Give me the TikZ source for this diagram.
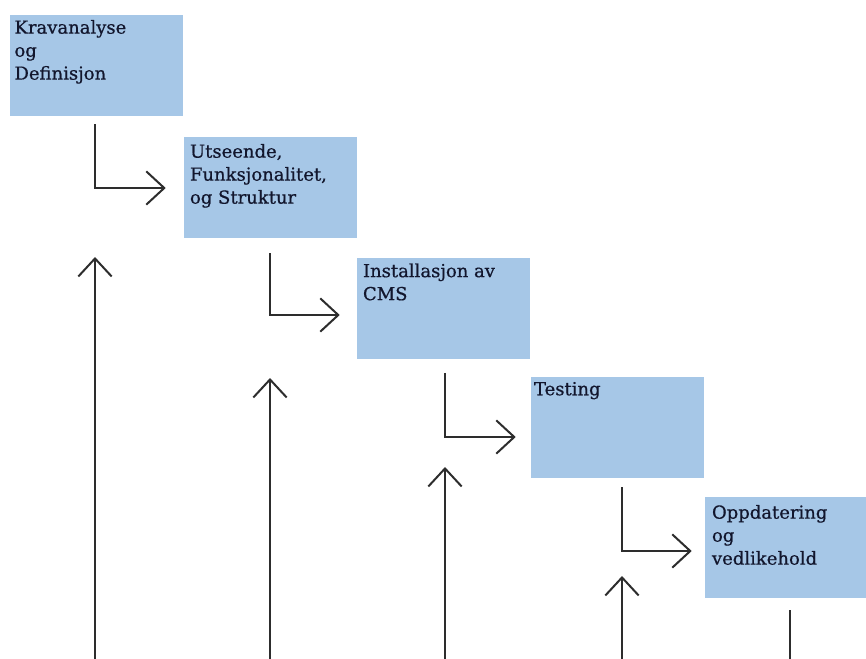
\documentclass[tikz,border=0pt]{standalone}
\usepackage{fontspec}
\setmainfont{DejaVu Serif}
\newfontfamily\stagefont{DejaVu Serif}[FakeBold=0.6]
\usetikzlibrary{arrows.meta,calc}
\definecolor{boxblue}{RGB}{166,199,231}
\definecolor{linegray}{RGB}{45,45,45}
\definecolor{textnavy}{RGB}{18,22,45}
\begin{document}
\begin{tikzpicture}[x=0.75pt,y=-0.75pt,
  stage/.style={fill=boxblue, draw=none, inner sep=0, minimum width=129.75pt, minimum height=75.75pt},
  stagetext/.style={anchor=north west, inner sep=0, align=left, text=textnavy,
    font=\stagefont\fontsize{13.5pt}{17.25pt}\selectfont},
  flow/.style={draw=linegray, line width=1.5pt, -{Straight Barb[length=13.5pt,width=25pt,line width=1.5pt]}},
  plain/.style={draw=linegray, line width=1.5pt}
]
\useasboundingbox (0,0) rectangle (866,658);
\fill[white] (0,0) rectangle (866,658);
\clip (0,0) rectangle (866,658);

\node[stage] (b1) at (96,65.5) {};
\node[stage] (b2) at (270.5,187.5) {};
\node[stage] (b3) at (443.5,308) {};
\node[stage] (b4) at (617.5,427.5) {};
\node[stage] (b5) at (791.5,547.5) {};

\node[stagetext] (t1) at ($(b1.north west)+(5,5)$) {Kravanalyse\\og\\Definisjon};
\node[stagetext] (t2) at ($(b2.north west)+(6,7)$) {Utseende,\\Funksjonalitet,\\og Struktur};
\node[stagetext] (t3) at ($(b3.north west)+(6,6)$) {Installasjon av\\CMS};
\node[stagetext] (t4) at ($(b4.north west)+(3,5)$) {Testing};
\node[stagetext] (t5) at ($(b5.north west)+(7,8)$) {Oppdatering\\og\\vedlikehold};

% downward step connectors
\draw[flow] ($(b1.south)+(-1,8)$) |- ($(b2.west)+(-18,0.5)$);
\draw[flow] ($(b2.south)+(-0.5,15)$) |- ($(b3.west)+(-17,7)$);
\draw[flow] ($(b3.south)+(1.5,14)$) |- ($(b4.west)+(-15,9.5)$);
\draw[flow] ($(b4.south)+(4.5,9)$) |- ($(b5.west)+(-13,3.5)$);

% upward arrows
\coordinate (u1b) at (95,660);  \coordinate (u1t) at (95,257);
\coordinate (u2b) at (270,660); \coordinate (u2t) at (270,378);
\coordinate (u3b) at (445,660); \coordinate (u3t) at (445,467);
\coordinate (u4b) at (622,660); \coordinate (u4t) at (622,576);
\draw[flow] (u1b) -- (u1t);
\draw[flow] (u2b) -- (u2t);
\draw[flow] (u3b) -- (u3t);
\draw[flow] (u4b) -- (u4t);

% line below last box
\coordinate (l5b) at (790,660);
\draw[plain] ($(b5.south)+(-1.5,12)$) -- (l5b);
\end{tikzpicture}
\end{document}
